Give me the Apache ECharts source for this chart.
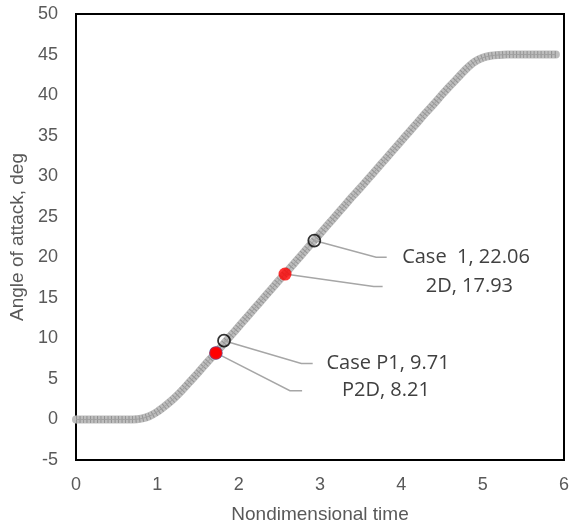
<!DOCTYPE html>
<html><head><meta charset="utf-8">
<script src="https://cdn.jsdelivr.net/npm/echarts@6/dist/echarts.min.js"></script>
<style>html,body{margin:0;padding:0;background:#fff}#c{width:573px;height:529px}</style>
</head><body><div id="c"></div>
<script>
// Motion curve: nondimensional time vs angle of attack (deg)
var timeVals = [0,0.1,0.2,0.3,0.4,0.5,0.6,0.7,0.8,0.9,1.0,1.1,1.2,1.3,1.4,1.5,1.6,1.7,1.8,1.9,2.0,2.1,2.2,2.3,2.4,2.5,2.6,2.7,2.8,2.9,3.0,3.1,3.2,3.3,3.4,3.5,3.6,3.7,3.8,3.9,4.0,4.1,4.2,4.3,4.4,4.5,4.6,4.7,4.8,4.9,5.0,5.1,5.2,5.3,5.4,5.5,5.6,5.7,5.8,5.9];
var aoaVals = [0,0,0,0,0,0,0,0,0.1,0.4,0.95,1.7,2.55,3.55,4.65,5.75,6.9,8.0,9.15,10.3,11.45,12.6,13.75,14.9,16.05,17.2,18.3,19.45,20.6,21.75,22.9,24.05,25.2,26.35,27.5,28.6,29.75,30.9,32.05,33.2,34.35,35.5,36.65,37.8,38.9,40.05,41.15,42.2,43.25,44.1,44.6,44.85,44.95,45,45,45,45,45,45,45];

// Highlighted points
var caseNames = ["Case  1, 22.06","2D, 17.93","Case P1, 9.71","P2D, 8.21"];
var caseTime  = [2.93, 2.57, 1.82, 1.72];
var caseAoa   = [22.06, 17.93, 9.71, 8.21];
// Label leader-line elbow / end / text anchor in data coordinates
var elbowX = [3.69, 3.66, 2.77, 2.63];
var elbowY = [20.0, 16.4, 6.9, 3.55];
var endX   = [3.82, 3.77, 2.91, 2.78];
var textX  = [4.01, 4.30, 3.08, 3.27];

var xTicks = {min:0, max:6, interval:1};
var yTicks = {min:-5, max:50, interval:5};

var curve = timeVals.map(function(t,i){return [t, aoaVals[i]];});
var chart = echarts.init(document.getElementById('c'));
var labelColor = '#595959';
var hollowIdx = [0,2], redIdx = [1,3];
var axisFont = 'Liberation Sans';

chart.setOption({
  animation:false,
  grid:{left:76,right:9,top:14,bottom:68,show:true,borderColor:'#000',borderWidth:2},
  xAxis:{type:'value',min:xTicks.min,max:xTicks.max,interval:xTicks.interval,
    axisLine:{show:true,onZero:false,lineStyle:{color:'#000',width:2}},axisTick:{show:false},splitLine:{show:false},
    axisLabel:{color:labelColor,fontSize:18,fontFamily:axisFont,margin:16},
    name:'Nondimensional time',nameLocation:'middle',nameGap:45,
    nameTextStyle:{color:labelColor,fontSize:19,fontFamily:axisFont}},
  yAxis:{type:'value',min:yTicks.min,max:yTicks.max,interval:yTicks.interval,
    axisLine:{show:true,onZero:false,lineStyle:{color:'#000',width:2}},axisTick:{show:false},splitLine:{show:false},
    axisLabel:{color:labelColor,fontSize:18,fontFamily:axisFont,margin:18},
    name:'Angle of attack, deg',nameLocation:'middle',nameGap:41,
    nameTextStyle:{color:labelColor,fontSize:19,fontFamily:axisFont}},
  series:[
    {type:'line',data:curve,smooth:0.3,showSymbol:false,lineStyle:{color:'#bdbdbd',width:8,cap:'round'},z:2},
    {type:'line',data:curve,smooth:0.3,showSymbol:false,lineStyle:{color:'#939393',width:7,type:[1,2.5]},z:3},
    {type:'line',data:curve,smooth:0.3,showSymbol:false,lineStyle:{color:'#a0a0a0',width:1},z:3},
    {type:'scatter',z:6,symbolSize:13,
      data:redIdx.map(function(i){return [caseTime[i],caseAoa[i]];}),
      itemStyle:{color:'#ff0000'}},
    {type:'scatter',z:7,symbolSize:12,
      data:hollowIdx.map(function(i){return [caseTime[i],caseAoa[i]];}),
      itemStyle:{color:'rgba(0,0,0,0)',borderColor:'#000',borderWidth:1.8}}
  ]
});

function drawAnnotations(){
  var els=[];
  for(var i=0;i<caseNames.length;i++){
    var p=chart.convertToPixel({gridIndex:0},[caseTime[i],caseAoa[i]]);
    var e=chart.convertToPixel({gridIndex:0},[elbowX[i],elbowY[i]]);
    var f=chart.convertToPixel({gridIndex:0},[endX[i],elbowY[i]]);
    var t=chart.convertToPixel({gridIndex:0},[textX[i],elbowY[i]]);
    els.push({type:'polyline',z:5,shape:{points:[p,e,f]},style:{stroke:'#a6a6a6',lineWidth:1.5,fill:null}});
    els.push({type:'text',z:8,x:t[0],y:t[1],style:{text:caseNames[i],fill:'#404040',font:'20px "Open Sans", Lato, sans-serif',textVerticalAlign:'middle'}});
  }
  // blue rim on P2D point
  var q=chart.convertToPixel({gridIndex:0},[caseTime[3],caseAoa[3]]);
  els.push({type:'circle',z:6,shape:{cx:q[0],cy:q[1],r:6},style:{fill:'#ff0000',stroke:'#4472c4',lineWidth:1.5}});
  chart.setOption({graphic:els});
}
drawAnnotations();
</script></body></html>
